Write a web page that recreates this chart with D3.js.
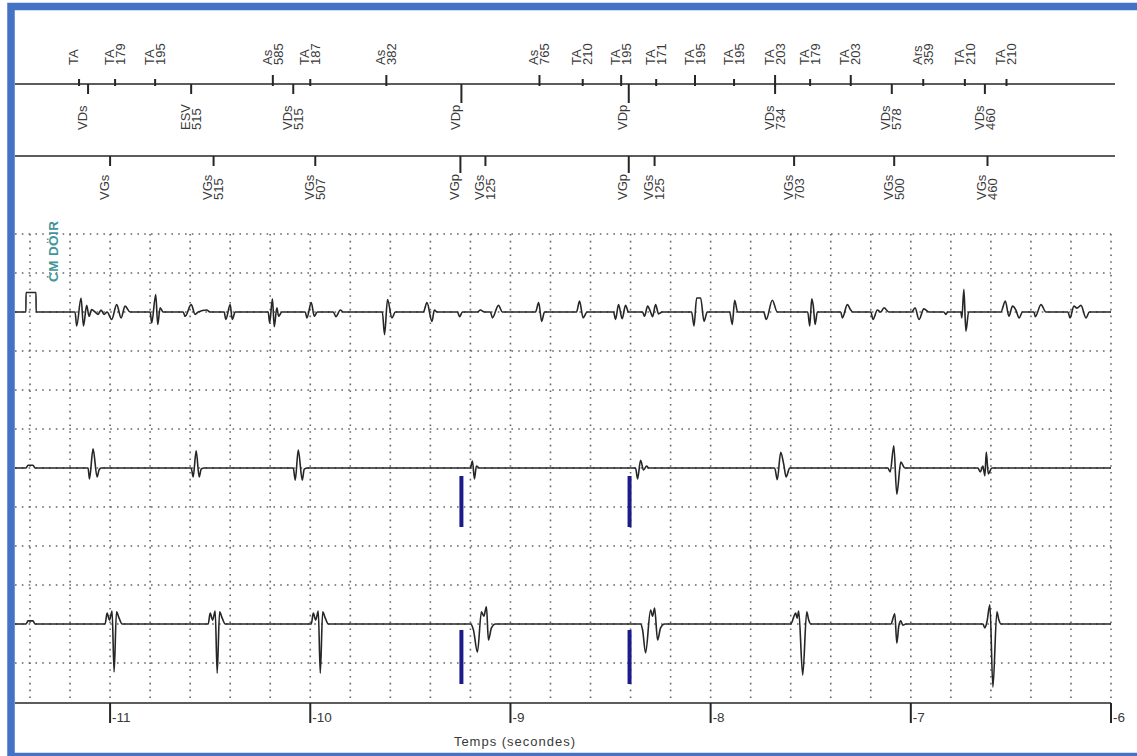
<!DOCTYPE html>
<html><head><meta charset="utf-8">
<script src="https://cdn.jsdelivr.net/npm/d3@7"></script>
<style>body{margin:0;background:#fff;} svg{display:block;font-family:"Liberation Sans",Arial,sans-serif;}</style>
</head><body><svg id="c" width="1137" height="756"></svg>
<script>
// ---------- DATA ----------
// time axis (seconds)
const timeDomain = [-11.475, -6];
const axisTicks = [-11, -10, -9, -8, -7, -6];
const axisTitle = "Temps (secondes)";
const channelLabel = "ĊM DÖIR";

// atrial marker channel: [code, interval ms, time s, major tick]
const atrialMarkers = [
  ["TA", "", -11.155, 0], ["TA", "179", -10.975, 0], ["TA", "195", -10.775, 0],
  ["As", "585", -10.187, 1], ["TA", "187", -10.0, 0], ["As", "382", -9.62, 1],
  ["As", "765", -8.855, 1], ["TA", "210", -8.639, 0], ["TA", "195", -8.447, 1],
  ["TA", "171", -8.272, 0], ["TA", "195", -8.078, 1], ["TA", "195", -7.883, 0],
  ["TA", "203", -7.678, 1], ["TA", "179", -7.503, 0], ["TA", "203", -7.3, 1],
  ["Ars", "359", -6.938, 0], ["TA", "210", -6.73, 0], ["TA", "210", -6.522, 0]
];
// right ventricular markers
const rvMarkers = [
  ["VDs", "", -11.11, 0], ["ESV", "515", -10.595, 0], ["VDs", "515", -10.085, 0],
  ["VDp", "", -9.245, 1], ["VDp", "", -8.409, 1], ["VDs", "734", -7.678, 0],
  ["VDs", "578", -7.095, 0], ["VDs", "460", -6.63, 0]
];
// left ventricular markers
const lvMarkers = [
  ["VGs", "", -11.0, 0], ["VGs", "515", -10.483, 0], ["VGs", "507", -9.975, 0],
  ["VGp", "", -9.25, 1], ["VGs", "125", -9.125, 0], ["VGp", "", -8.409, 1],
  ["VGs", "125", -8.28, 0], ["VGs", "703", -7.583, 0], ["VGs", "500", -7.083, 0],
  ["VGs", "460", -6.617, 0]
];
// ventricular pacing spikes (s)
const paceTimes = [-9.245, -8.405];

// EGM traces: [time s, amplitude (grid divisions)]
const egmAtrial = [
[-11.475,0],[-11.4205,0],[-11.42,0.5],[-11.37,0.5],[-11.3695,0],
[-11.175,0],[-11.167,-0.36],[-11.145,0.36],[-11.133,-0.36],[-11.117,0.17],[-11.105,-0.11],[-11.092,0.06],[-11.075,0],
[-11.06,-0.06],[-11.045,0.05],[-11.03,-0.06],[-11.015,0],
[-10.992,-0.19],[-10.967,0.19],[-10.945,-0.15],[-10.925,0.15],[-10.9,0],
[-10.8,0],[-10.792,-0.28],[-10.772,0.45],[-10.762,-0.32],[-10.75,0.11],[-10.735,0],
[-10.635,0],[-10.625,-0.11],[-10.595,0.19],[-10.575,-0.06],[-10.56,0],[-10.517,0.05],[-10.5,0],
[-10.43,0],[-10.422,-0.19],[-10.4,0.19],[-10.39,-0.19],[-10.375,0],
[-10.21,0],[-10.203,-0.28],[-10.189,0.34],[-10.18,-0.38],[-10.167,0.11],[-10.158,-0.11],[-10.142,0],
[-10.025,0],[-10.017,-0.15],[-9.995,0.24],[-9.98,-0.11],[-9.965,0],
[-9.885,0],[-9.872,-0.12],[-9.85,0.05],[-9.835,0],
[-9.64,0],[-9.629,-0.58],[-9.614,0.32],[-9.592,-0.15],[-9.575,0],
[-9.435,0],[-9.417,0.24],[-9.392,-0.24],[-9.38,0.05],[-9.367,0],
[-9.265,0],[-9.254,-0.12],[-9.24,0],
[-9.165,0],[-9.15,0.05],[-9.13,0],
[-9.1,0],[-9.09,-0.15],[-9.06,0.17],[-9.04,0],
[-8.875,0],[-8.859,0.24],[-8.844,-0.24],[-8.83,0],
[-8.67,0],[-8.655,0.28],[-8.637,-0.15],[-8.617,0],
[-8.485,0],[-8.475,-0.19],[-8.46,0.19],[-8.442,-0.17],[-8.425,0.17],[-8.41,0],
[-8.34,0],[-8.33,-0.11],[-8.315,0.15],[-8.3,0],[-8.29,-0.12],[-8.275,0.19],[-8.26,-0.05],[-8.242,0],
[-8.095,0],[-8.083,-0.36],[-8.07,0.36],[-8.05,0.36],[-8.033,-0.24],[-8.017,0],
[-7.905,0],[-7.892,-0.32],[-7.88,0.3],[-7.865,0],
[-7.735,0],[-7.722,-0.19],[-7.692,0.3],[-7.667,0],
[-7.515,0],[-7.505,-0.36],[-7.495,0.34],[-7.487,0.15],[-7.478,-0.32],[-7.467,0],
[-7.35,0],[-7.342,-0.15],[-7.317,0.19],[-7.3,0.05],[-7.29,0],
[-7.2,0],[-7.189,-0.19],[-7.167,0.05],[-7.15,0],[-7.134,0.11],[-7.11,0],
[-6.995,0],[-6.979,0.11],[-6.959,-0.19],[-6.935,0.08],[-6.91,0],
[-6.835,0],[-6.825,-0.06],[-6.815,0],
[-6.75,0],[-6.745,-0.15],[-6.735,0.58],[-6.725,-0.49],[-6.711,0],
[-6.55,0],[-6.528,0.28],[-6.51,-0.11],[-6.492,0.15],[-6.475,0.05],[-6.459,-0.15],[-6.442,0],
[-6.385,0],[-6.378,-0.12],[-6.35,0.19],[-6.325,0],
[-6.215,0],[-6.205,-0.15],[-6.185,0.15],[-6.17,0.1],[-6.15,0.17],[-6.125,-0.15],[-6.108,0],
[-6.0,0]
];
const egmRV = [
[-11.475,0],[-11.42,0],[-11.41,0.07],[-11.385,0.07],[-11.375,0],
[-11.11,0],[-11.103,-0.28],[-11.085,0.49],[-11.065,-0.23],[-11.055,-0.05],[-11.045,0],
[-10.595,0],[-10.585,-0.23],[-10.57,0.44],[-10.555,-0.23],[-10.545,-0.03],[-10.53,0],
[-10.085,0],[-10.075,-0.31],[-10.06,0.46],[-10.04,-0.31],[-10.03,-0.03],[-10.015,0],
[-9.2,0],[-9.19,0.18],[-9.18,-0.28],[-9.17,0.05],[-9.155,0],
[-8.375,0],[-8.365,-0.28],[-8.35,0.2],[-8.335,-0.05],[-8.32,0.05],[-8.31,0],
[-7.68,0],[-7.667,-0.3],[-7.65,0.4],[-7.635,0.1],[-7.623,-0.23],[-7.605,0],
[-7.115,0],[-7.103,-0.1],[-7.085,0.57],[-7.07,-0.67],[-7.05,0.15],[-7.03,0],
[-6.665,0],[-6.653,-0.1],[-6.64,0.05],[-6.63,-0.2],[-6.623,0.41],[-6.613,-0.15],[-6.595,0],
[-6.0,0]
];
const egmLV = [
[-11.475,0],[-11.42,0],[-11.41,0.08],[-11.385,0.08],[-11.375,0],
[-11.025,0],[-11.015,0.28],[-11.003,0.1],[-10.99,0.33],[-10.98,-1.23],[-10.968,0.31],[-10.955,0.15],[-10.94,0],
[-10.51,0],[-10.5,0.28],[-10.488,0.1],[-10.475,0.33],[-10.465,-1.26],[-10.453,0.31],[-10.44,0.15],[-10.425,0],
[-9.995,0],[-9.985,0.28],[-9.973,0.1],[-9.96,0.33],[-9.95,-1.26],[-9.938,0.31],[-9.925,0.15],[-9.91,0],
[-9.2,0],[-9.185,-0.15],[-9.165,-0.72],[-9.145,0.31],[-9.133,0.2],[-9.12,0.44],[-9.11,-0.41],[-9.095,-0.1],[-9.075,0],
[-8.35,0],[-8.34,-0.15],[-8.325,-0.74],[-8.3,0.36],[-8.29,0.2],[-8.28,0.41],[-8.265,-0.41],[-8.25,-0.1],[-8.23,0],
[-7.6,0],[-7.575,0.28],[-7.568,0.15],[-7.56,0.33],[-7.54,-1.31],[-7.52,0.31],[-7.51,0.1],[-7.5,0],
[-7.1,0],[-7.08,0.26],[-7.07,-0.49],[-7.06,-0.05],[-7.05,0.08],[-7.04,-0.03],[-7.025,0],
[-6.64,0],[-6.63,-0.1],[-6.62,0.05],[-6.605,0.49],[-6.59,-1.62],[-6.57,0.31],[-6.56,0.1],[-6.55,0],
[-6.0,0]
];

// ---------- DRAW ----------
const svg = d3.select("#c");
const ink = "#262626", txt = "#3a3a3a";
const x = d3.scaleLinear().domain(timeDomain).range([15, 1111]);
const gridDiv = 39, gridTop = 234, axisY = 703;

svg.append("rect").attr("width",1137).attr("height",756).attr("fill","#fff");

// grid
const grid = svg.append("g").attr("stroke","#666").attr("stroke-width",1.6).attr("stroke-dasharray","1.6,5.2");
d3.range(0, 12).forEach(k => {
  grid.append("line").attr("x1",15).attr("x2",1111).attr("y1",gridTop+k*gridDiv).attr("y2",gridTop+k*gridDiv);
});
d3.range(-11.4, -5.99, 0.2).forEach(t => {
  grid.append("line").attr("x1",x(t)).attr("x2",x(t)).attr("y1",gridTop).attr("y2",axisY);
});

// channel label
svg.append("text").attr("transform",`translate(${57.5},${282}) rotate(-90)`)
  .attr("fill","#3f9698").attr("font-size",13.5).attr("font-weight","bold").attr("letter-spacing",0.4).text(channelLabel);

// traces
const channels = [[egmAtrial, gridTop + 2*gridDiv], [egmRV, gridTop + 6*gridDiv], [egmLV, gridTop + 10*gridDiv]];
channels.forEach(([data, base]) => {
  const y = d3.scaleLinear().domain([-1, 1]).range([base + gridDiv, base - gridDiv]);
  const line = d3.line().x(d => x(d[0])).y(d => y(d[1])).curve(d3.curveMonotoneX);
  svg.append("path").datum(data).attr("d", line).attr("fill","none")
    .attr("stroke", ink).attr("stroke-width",1.6).attr("stroke-linejoin","round");
});

// pacing bars
const barSpans = [[gridTop + 6*gridDiv + 8, gridTop + 6*gridDiv + 59], [gridTop + 10*gridDiv + 6, gridTop + 10*gridDiv + 60]];
barSpans.forEach(([y1, y2]) => {
  paceTimes.forEach(t => {
    svg.append("line").attr("x1",x(t)).attr("x2",x(t)).attr("y1",y1).attr("y2",y2)
      .attr("stroke","#1b1b8a").attr("stroke-width",4);
  });
});

// marker rows
const row1Y = 84, row2Y = 156;
[row1Y, row2Y].forEach(yy => svg.append("line").attr("x1",15).attr("x2",1115).attr("y1",yy).attr("y2",yy)
  .attr("stroke",ink).attr("stroke-width",1.5));

function labels(list, startY, fs) {
  list.forEach(m => {
    const cx = x(m[2]);
    const lines = m[1] ? [m[0], m[1]] : [m[0]];
    lines.forEach((s, i) => {
      svg.append("text").attr("transform",`translate(${cx - 6 + i*11},${startY}) rotate(-90)`)
        .attr("dy","0.36em").attr("fill",txt).attr("font-size",fs).text(s);
    });
  });
}
function ticks(list, y0, lenMinor, lenMajor, dir) {
  list.forEach(m => {
    const cx = x(m[2]);
    const len = m[3] ? lenMajor : lenMinor;
    svg.append("line").attr("x1",cx).attr("x2",cx).attr("y1", dir < 0 ? y0 + 2 : y0).attr("y2", y0 + dir*len)
      .attr("stroke",ink).attr("stroke-width",2);
  });
}
ticks(atrialMarkers, row1Y, 5, 9, -1);
ticks(rvMarkers, row1Y, 10, 19, 1);
ticks(lvMarkers, row2Y, 10, 17, 1);
labels(atrialMarkers, 65, 13);
labels(rvMarkers, 130, 13);
labels(lvMarkers, 200, 13);

// time axis
svg.append("line").attr("x1",15).attr("x2",1111).attr("y1",axisY).attr("y2",axisY).attr("stroke",ink).attr("stroke-width",1.5);
axisTicks.forEach(t => {
  svg.append("line").attr("x1",x(t)).attr("x2",x(t)).attr("y1",axisY).attr("y2",axisY+20).attr("stroke",ink).attr("stroke-width",2);
  svg.append("text").attr("x",x(t)+2).attr("y",axisY+19).attr("fill",txt).attr("font-size",13.5).text(String(t));
});
svg.append("text").attr("x",515).attr("y",746).attr("text-anchor","middle").attr("fill",txt)
  .attr("font-size",13).attr("letter-spacing",1).text(axisTitle);

// frame
svg.append("rect").attr("x",11).attr("y",6.5).attr("width",1150).attr("height",750)
  .attr("fill","none").attr("stroke","#4472c4").attr("stroke-width",7.5);
</script></body></html>
